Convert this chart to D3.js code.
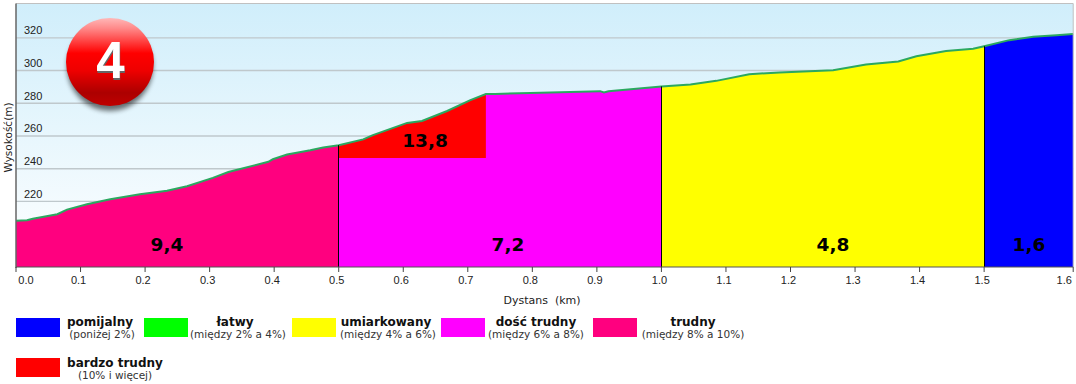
<!DOCTYPE html>
<html><head><meta charset="utf-8">
<script src="https://cdn.jsdelivr.net/npm/d3@7/dist/d3.min.js"></script>
<style>
html,body{margin:0;padding:0;background:#fff;overflow:hidden}
svg{display:block;font-family:"DejaVu Sans",Verdana,sans-serif}
</style></head><body><svg id="c" width="1076" height="384"></svg>
<script>
const distanceKm=[0,.017,.026,.064,.079,.110,.146,.192,.234,.265,.305,.329,.391,.398,.420,.456,.476,.5,.538,.553,.606,.629,.668,.704,.728,.742,.797,.905,.911,.918,1.0,1.045,1.085,1.136,1.183,1.266,1.317,1.367,1.395,1.441,1.483,1.5,1.539,1.576,1.612,1.638];
const elevationM=[207.9,208.2,209.1,211.9,214.7,218.0,221.0,224.1,226.2,229.0,234.1,237.7,243.9,245.5,248.4,251.0,252.7,254.1,257.6,260.2,267.7,268.9,275.0,281.6,285.3,285.4,286.0,287.1,286.3,287.1,290.0,291.2,293.4,297.5,298.5,299.9,303.4,305.3,308.5,311.6,313.0,314.6,318.3,320.3,321.3,322.0];
const segmentStart=[0,.5,1,1.5];
const segmentEnd=[.5,1,1.5,1.638];
const segmentColor=["#ff007f","#ff00ff","#ffff00","#0000ff"];
const segmentLabel=["9,4","7,2","4,8","1,6"];
const steepStart=.5, steepEnd=.728, steepFloor=246.3, steepLabel="13,8", steepColor="#ff0000";
const xTicks=[0,.1,.2,.3,.4,.5,.6,.7,.8,.9,1,1.1,1.2,1.3,1.4,1.5,1.638];
const yTicks=[220,240,260,280,300,320];
const legendNames=["pomijalny","łatwy","umiarkowany","dość trudny","trudny","bardzo trudny"];
const legendNotes=["(poniżej 2%)","(między 2% a 4%)","(między 4% a 6%)","(między 6% a 8%)","(między 8% a 10%)","(10% i więcej)"];
const legendColors=["#0000ff","#00ff00","#ffff00","#ff00ff","#ff007f","#ff0000"];
const badgeNumber="4";

const L=16,R=1073.2,T=3.5,B=267;
const svg=d3.select("#c");
const x=d3.scaleLinear().domain([0,1.638]).range([L,R]);
const y=d3.scaleLinear().domain([179.6,340.7]).range([B,T]);
const defs=svg.append("defs");
const bg=defs.append("linearGradient").attr("id","bg").attr("x1",0).attr("x2",0).attr("y1",0).attr("y2",1);
bg.append("stop").attr("offset",0).attr("stop-color","#d0eefb");
bg.append("stop").attr("offset",1).attr("stop-color","#ffffff");
const bl=defs.append("linearGradient").attr("id","ball").attr("x1",0).attr("x2",0).attr("y1",0).attr("y2",1);
[[0,"#ffb8b8"],[.12,"#ff8888"],[.4,"#ff0000"],[.6,"#ee0000"],[.85,"#ac0000"],[1,"#c00000"]].forEach(s=>bl.append("stop").attr("offset",s[0]).attr("stop-color",s[1]));
const sh=defs.append("filter").attr("id","sh").attr("x","-30%").attr("y","-30%").attr("width","160%").attr("height","160%");
sh.append("feGaussianBlur").attr("stdDeviation",2.5);
const sh2=defs.append("filter").attr("id","sh2").attr("x","-30%").attr("y","-30%").attr("width","160%").attr("height","160%");
sh2.append("feGaussianBlur").attr("stdDeviation",.7);

svg.append("rect").attr("x",L).attr("y",T).attr("width",R-L).attr("height",B-T).attr("fill","url(#bg)");

const yAxis=d3.axisLeft(y).tickValues(yTicks).tickSize(-(R-L)).tickPadding(0);
const gy=svg.append("g").attr("transform",`translate(${L},0)`).call(yAxis);
gy.select(".domain").remove();
gy.selectAll("line").attr("stroke","#bfc8cc").attr("stroke-width",1.4);
gy.selectAll("text").attr("x",8).attr("dy",0).attr("y",-3.5).attr("text-anchor","start").attr("fill","#222").style("font-size","11px").style("font-family","inherit");

const pts=distanceKm.map((d,i)=>({d,e:elevationM[i]}));
const area=d3.area().x(p=>x(p.d)).y0(B).y1(p=>y(p.e));
const inRange=(a,b)=>pts.filter(p=>p.d>=a&&p.d<=b);
segmentStart.forEach((s,i)=>{
  svg.append("path").attr("d",area(inRange(s,segmentEnd[i]))).attr("fill",segmentColor[i]);
});
svg.append("path").attr("d",area.y0(y(steepFloor))(inRange(steepStart,steepEnd))).attr("fill",steepColor);
const line=d3.line().x(p=>x(p.d)).y(p=>y(p.e));
svg.append("path").attr("d",line(pts)).attr("fill","none").attr("stroke","#2ba860").attr("stroke-width",2);
segmentEnd.slice(0,3).forEach((s,i)=>{
  const e=pts.find(p=>p.d===s).e;
  const vx=Math.floor(x(s))+.5;
  svg.append("line").attr("x1",vx).attr("x2",vx).attr("y1",y(e)).attr("y2",B).attr("stroke","#000").attr("stroke-width",1);
});
const labelStyle=t=>t.attr("text-anchor","middle").attr("font-weight","bold").attr("font-size",18.5).attr("fill","#000");
segmentLabel.forEach((t,i)=>{
  const mid={0:167,1:508,2:833,3:1029}[i];
  svg.append("text").attr("x",mid).attr("y",251).text(t).call(labelStyle);
});
svg.append("text").attr("x",425).attr("y",146.5).text(steepLabel).call(labelStyle);

// frame
svg.append("path").attr("d",`M${L},${T}H${R}V${B}`).attr("fill","none").attr("stroke","#c0c0c0");
svg.append("line").attr("x1",L).attr("x2",L).attr("y1",T).attr("y2",B+1).attr("stroke","#666").attr("stroke-width",1.5);

const xAxis=d3.axisBottom(x).tickValues(xTicks).tickSize(5).tickSizeOuter(0).offset(0).tickFormat(d3.format(".1f"));
const gx=svg.append("g").attr("transform",`translate(0,${B})`).call(xAxis);
gx.select(".domain").attr("stroke","#555").attr("stroke-width",1.2);
gx.selectAll("line").attr("stroke","#444");
gx.selectAll("text").attr("y",0).attr("dy",0).attr("fill","#222").style("font-size","11px").style("font-family","inherit")
  .attr("x",(d,i)=>i===0?10:(i===xTicks.length-1?-9:-2))
  .attr("transform","translate(0,17)");

svg.append("text").attr("x",542).attr("y",304).attr("text-anchor","middle").attr("font-size",11).attr("fill","#222").attr("xml:space","preserve").text("Dystans  (km)");
svg.append("text").attr("transform","translate(11.5,137.5) rotate(-90)").attr("text-anchor","middle").attr("font-size",10.5).attr("fill","#222").text("Wysokość(m)");

// legend
const swatchX=[16,144,292,441,593,16], nameX=[100,235,386,536,693,115], noteX=[102,238,388,536,693,115];
legendNames.forEach((n,i)=>{
  const r=i===5?40:0;
  svg.append("rect").attr("x",swatchX[i]).attr("y",318+r).attr("width",44).attr("height",19).attr("fill",legendColors[i]);
  svg.append("text").attr("x",nameX[i]).attr("y",326+r+(i===5?1:0)).attr("text-anchor","middle").attr("font-weight","bold").attr("font-size",12).attr("fill","#111").text(n);
  svg.append("text").attr("x",noteX[i]).attr("y",338+r+(i===5?1:0)).attr("text-anchor","middle").attr("font-size",10.5).attr("fill","#333").text(legendNotes[i]);
});

// badge
svg.append("ellipse").attr("cx",110).attr("cy",67).attr("rx",43).attr("ry",44).attr("fill","#000").attr("opacity",.55).attr("filter","url(#sh)");
svg.append("circle").attr("cx",110).attr("cy",62).attr("r",44).attr("fill","url(#ball)");
const badgeFont="'Liberation Sans',Arial,sans-serif";
svg.append("text").attr("x",111).attr("y",80).attr("text-anchor","middle").style("font-family",badgeFont).attr("font-weight","bold").attr("font-size",51).attr("fill","#666").attr("filter","url(#sh2)").text(badgeNumber);
svg.append("text").attr("x",110.5).attr("y",78).attr("text-anchor","middle").style("font-family",badgeFont).attr("font-weight","bold").attr("font-size",51).attr("fill","#fff").text(badgeNumber);
</script></body></html>
